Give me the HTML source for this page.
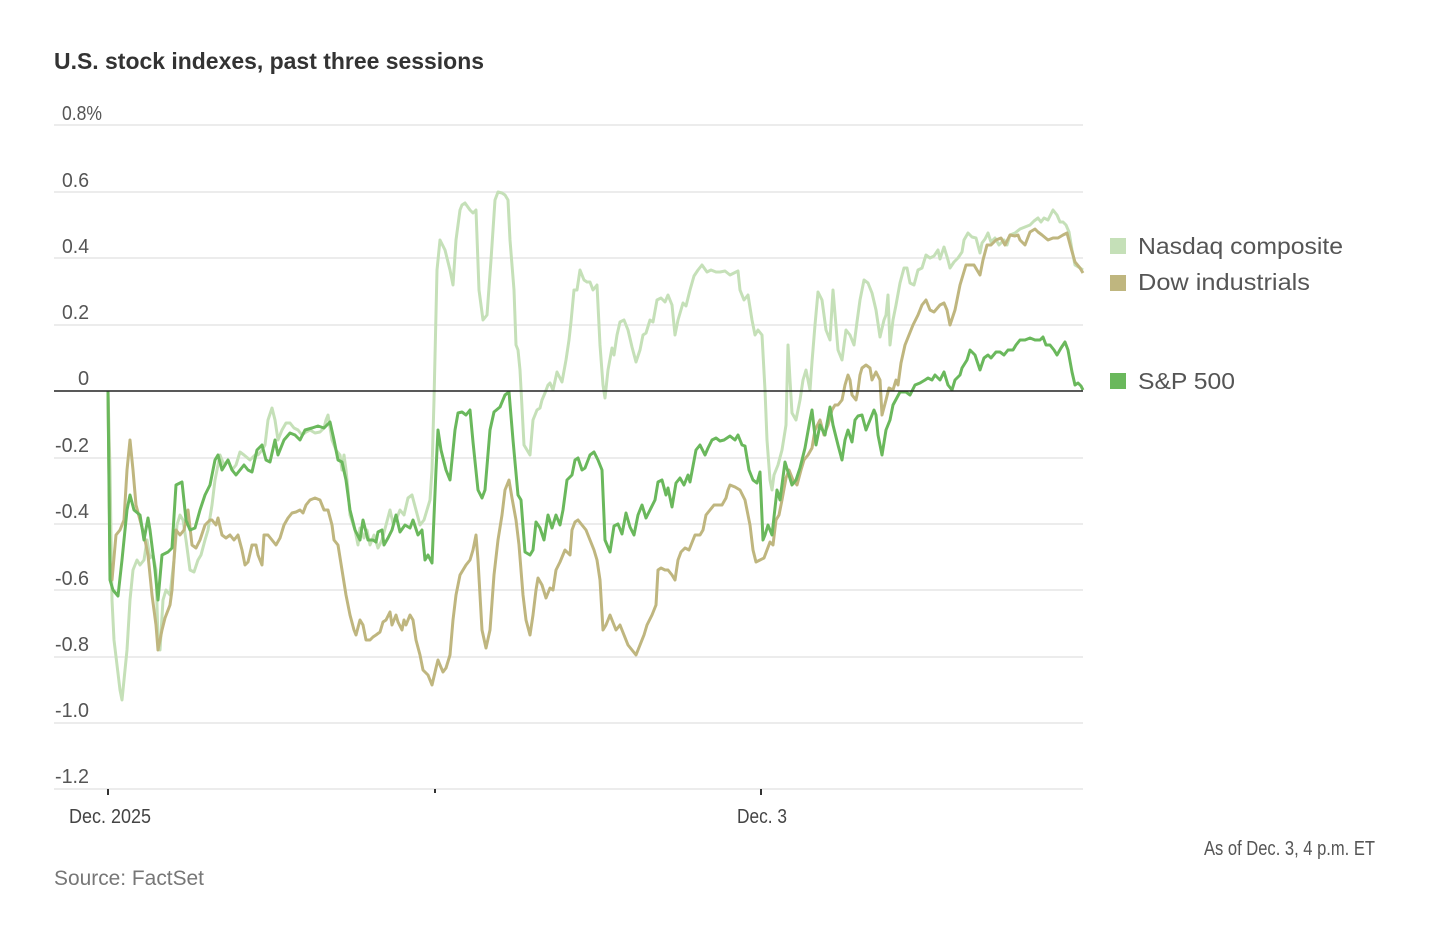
<!DOCTYPE html>
<html><head><meta charset="utf-8"><style>
html,body{margin:0;padding:0;background:#fff;}
body{width:1454px;height:920px;overflow:hidden;font-family:"Liberation Sans",sans-serif;}
</style></head><body>
<svg width="1454" height="920" viewBox="0 0 1454 920" xmlns="http://www.w3.org/2000/svg" font-family="Liberation Sans, sans-serif">
<text x="54" y="69" font-weight="bold" font-size="23" fill="#333" textLength="430" lengthAdjust="spacingAndGlyphs">U.S. stock indexes, past three sessions</text>
<g stroke="#e6e6e6" stroke-width="1.5">
<line x1="54" x2="1083" y1="125" y2="125"/><line x1="54" x2="1083" y1="192" y2="192"/><line x1="54" x2="1083" y1="258" y2="258"/><line x1="54" x2="1083" y1="325" y2="325"/><line x1="54" x2="1083" y1="458" y2="458"/><line x1="54" x2="1083" y1="524" y2="524"/><line x1="54" x2="1083" y1="590" y2="590"/><line x1="54" x2="1083" y1="657" y2="657"/><line x1="54" x2="1083" y1="723" y2="723"/><line x1="54" x2="1083" y1="789" y2="789"/>
</g>
<g font-size="20" fill="#555" lengthAdjust="spacingAndGlyphs">
<text x="62" y="120" textLength="40" lengthAdjust="spacingAndGlyphs">0.8%</text><text x="62" y="187" textLength="27" lengthAdjust="spacingAndGlyphs">0.6</text><text x="62" y="253" textLength="27" lengthAdjust="spacingAndGlyphs">0.4</text><text x="62" y="319" textLength="27" lengthAdjust="spacingAndGlyphs">0.2</text><text x="78" y="385">0</text><text x="55" y="452" textLength="34" lengthAdjust="spacingAndGlyphs">-0.2</text><text x="55" y="518" textLength="34" lengthAdjust="spacingAndGlyphs">-0.4</text><text x="55" y="585" textLength="34" lengthAdjust="spacingAndGlyphs">-0.6</text><text x="55" y="651" textLength="34" lengthAdjust="spacingAndGlyphs">-0.8</text><text x="55" y="717" textLength="34" lengthAdjust="spacingAndGlyphs">-1.0</text><text x="55" y="783" textLength="34" lengthAdjust="spacingAndGlyphs">-1.2</text>
</g>
<g stroke="#333" stroke-width="2"><line x1="108" x2="108" y1="789" y2="795"/><line x1="435" x2="435" y1="789" y2="793"/><line x1="761" x2="761" y1="789" y2="795"/></g>
<g font-size="20" fill="#444"><text x="69" y="823" textLength="82" lengthAdjust="spacingAndGlyphs">Dec. 2025</text><text x="737" y="823" textLength="50" lengthAdjust="spacingAndGlyphs">Dec. 3</text></g>
<g fill="none" stroke-width="3" stroke-linejoin="round">
<polyline stroke="#c5e0b8" points="108,391 110,470 112,600 114,640 117,665 120,690 122,700 124,680 127,650 130,600 133,570 137,560 140,565 144,560 147,540 150,558 153,555 156,570 158,640 160,650 163,600 166,590 170,595 174,560 177,525 180,515 183,520 186,540 190,570 194,572 198,560 201,555 205,540 208,530 212,505 215,480 220,455 224,465 228,460 232,470 236,465 240,452 244,455 250,460 255,455 258,455 262,450 265,445 268,420 272,408 275,420 278,440 282,430 286,423 290,423 294,428 298,430 302,435 306,432 310,430 315,433 320,432 324,428 326,420 328,415 332,440 336,450 340,455 342,470 344,455 346,470 348,490 350,515 355,530 358,545 360,528 364,538 367,530 370,545 374,535 378,548 382,540 386,525 390,510 393,523 396,520 400,510 404,515 408,498 412,495 416,510 420,525 424,520 427,510 430,500 432,470 434,400 437,270 440,240 445,250 450,270 453,285 456,240 460,210 462,205 465,203 470,210 473,213 476,210 479,290 483,320 487,315 491,260 495,200 498,192 502,193 505,195 508,200 510,240 514,290 516,345 518,350 520,370 524,445 527,450 530,455 533,420 537,410 540,408 542,400 545,393 548,385 550,383 553,390 557,372 562,382 566,360 569,340 571,322 574,290 577,290 580,270 584,280 587,282 590,282 593,290 597,285 600,345 603,385 605,398 608,370 612,348 614,355 617,335 620,322 624,320 628,330 632,347 636,362 640,350 643,335 646,333 650,320 653,322 657,300 661,298 665,302 668,295 672,305 675,335 678,320 683,303 686,306 690,290 694,276 698,270 702,265 707,272 711,270 716,272 720,272 725,271 730,275 734,273 738,271 740,290 744,300 748,295 752,320 755,335 758,330 762,335 765,390 767,440 770,480 772,490 774,475 778,465 782,450 786,425 788,345 790,380 792,413 796,420 800,400 803,380 806,370 810,390 812,362 815,325 818,292 822,300 826,330 830,340 833,290 838,350 842,360 846,330 850,335 854,345 857,322 860,300 864,280 868,283 872,293 876,310 880,337 884,320 886,315 888,295 890,345 893,320 896,305 900,283 904,268 907,268 910,283 914,285 918,270 922,268 926,255 930,258 934,256 938,250 940,259 944,247 948,260 950,268 954,262 958,258 962,252 964,240 968,233 972,237 976,238 980,253 982,243 985,239 988,233 991,242 995,238 999,245 1004,240 1007,245 1010,235 1015,233 1020,229 1025,227 1030,225 1034,221 1038,218 1041,222 1044,218 1048,220 1053,210 1057,215 1060,222 1063,222 1066,225 1069,232 1072,250 1075,265 1080,268 1083,270"/>
<polyline stroke="#bfb67f" points="108,391 110,560 112,580 116,535 120,530 124,520 127,470 130,440 133,470 136,505 140,520 144,535 148,555 152,595 156,625 158,650 162,630 165,618 170,605 172,590 176,530 180,535 184,530 188,510 192,545 196,548 200,540 205,525 210,520 212,520 216,525 218,518 222,535 226,538 230,535 234,540 238,535 242,550 245,565 248,562 252,545 256,545 258,555 262,565 264,535 268,535 272,540 276,545 280,538 284,525 288,518 292,513 296,512 300,510 303,513 306,505 310,500 315,498 320,500 324,510 328,510 332,525 334,540 338,545 342,570 346,595 350,615 354,630 356,635 360,620 363,625 366,640 370,640 373,637 376,635 380,632 383,622 386,620 390,612 392,625 396,615 398,622 402,630 404,620 406,625 410,615 413,620 416,640 420,655 423,670 428,675 432,685 436,668 438,660 440,665 443,672 446,668 450,655 453,620 456,595 460,575 466,565 470,560 473,550 476,535 478,560 482,630 486,648 490,630 494,575 498,540 502,515 505,490 509,480 512,498 516,520 519,545 523,595 526,620 530,635 533,615 536,590 538,578 542,585 546,598 550,588 553,590 556,570 560,562 565,550 570,555 572,530 575,522 578,520 582,525 586,530 590,540 594,550 597,560 600,580 603,630 606,625 610,615 612,620 616,630 620,625 624,635 628,645 632,650 636,655 640,645 644,635 647,625 652,615 656,605 658,570 661,568 665,570 668,570 672,575 675,580 678,560 681,552 685,548 689,550 693,540 695,535 700,535 703,530 706,515 710,510 714,505 718,505 722,505 726,498 728,490 730,485 735,487 740,490 745,500 750,525 753,550 756,562 760,560 764,558 770,542 773,545 776,520 779,515 782,500 786,478 789,470 793,480 797,485 801,470 804,460 808,455 812,448 815,430 820,420 824,435 828,425 832,410 835,405 838,405 842,400 845,385 848,375 850,380 852,395 856,400 858,390 860,375 862,368 866,365 870,368 872,380 876,372 880,380 882,415 886,400 889,388 893,390 896,380 898,385 901,363 905,345 909,335 913,325 918,315 922,305 926,300 930,310 934,312 940,305 944,303 947,310 950,325 955,310 957,300 960,285 963,275 966,265 970,265 974,265 977,270 980,275 983,260 987,245 991,245 996,240 1001,238 1005,245 1010,235 1015,236 1018,235 1020,240 1025,245 1030,232 1035,229 1038,232 1042,235 1048,240 1053,238 1058,238 1063,235 1067,233 1071,248 1075,262 1080,268 1083,273"/>
<polyline stroke="#6ab85c" points="108,391 110,580 113,590 118,596 122,560 127,510 130,495 134,510 140,515 144,540 148,518 150,530 155,570 158,600 162,555 168,552 172,548 176,485 182,482 186,520 190,530 195,528 200,510 205,495 210,485 215,460 218,455 222,470 228,460 232,470 236,475 240,470 244,465 248,470 252,472 257,450 262,445 266,460 270,462 275,440 278,455 284,440 290,433 295,435 300,440 305,430 312,428 318,426 324,428 330,422 334,440 338,460 342,462 346,480 350,510 355,530 360,540 363,520 368,540 373,540 376,542 378,532 382,530 384,545 388,538 392,530 396,515 400,532 405,525 410,528 413,520 418,535 422,530 425,560 428,555 432,563 436,470 438,430 441,450 446,470 450,480 455,430 458,413 462,412 466,415 470,410 473,442 478,490 482,498 485,490 490,430 494,412 500,407 505,395 509,392 513,440 518,495 521,500 525,552 530,555 533,550 536,522 540,528 544,540 548,515 552,528 556,515 560,525 563,510 567,480 572,475 575,460 578,458 582,470 585,468 590,455 594,452 598,460 602,470 605,540 610,552 614,526 618,524 622,534 626,513 630,527 634,535 638,515 642,505 646,518 650,510 655,500 658,482 662,480 666,495 668,488 672,507 676,483 680,478 684,485 688,475 690,482 696,450 700,445 705,455 708,448 712,440 716,438 720,441 724,440 730,436 735,440 738,435 742,445 745,446 749,470 753,480 757,483 760,472 763,540 765,535 768,525 772,535 777,490 780,500 785,462 788,472 792,485 796,480 800,468 805,448 810,420 812,410 816,445 820,425 825,435 830,407 833,425 838,445 842,460 845,440 848,430 852,442 855,420 858,416 862,415 866,430 870,420 874,410 876,415 878,435 882,455 886,430 890,420 893,405 900,392 906,392 910,395 915,385 920,383 925,380 928,378 932,380 935,375 940,380 944,372 948,385 952,390 955,380 960,375 962,368 967,360 970,350 975,355 980,370 984,358 988,355 991,358 996,352 1000,352 1004,355 1008,350 1013,350 1016,345 1020,340 1025,340 1030,338 1035,340 1040,340 1043,337 1046,345 1050,345 1054,350 1057,355 1061,348 1065,342 1068,350 1072,372 1075,385 1078,383 1081,386 1083,390"/>
</g>
<line x1="54" x2="1083" y1="391" y2="391" stroke="#222" stroke-width="1.5"/>
<rect x="1110" y="238" width="16" height="16" fill="#c5e0b8"/>
<rect x="1110" y="275" width="16" height="16" fill="#bfb67f"/>
<rect x="1110" y="373" width="16" height="16" fill="#6ab85c"/>
<g font-size="23" fill="#555">
<text x="1138" y="254" textLength="205" lengthAdjust="spacingAndGlyphs">Nasdaq composite</text><text x="1138" y="290" textLength="172" lengthAdjust="spacingAndGlyphs">Dow industrials</text><text x="1138" y="389" textLength="97" lengthAdjust="spacingAndGlyphs">S&amp;P 500</text>
</g>
<text x="1204" y="855" font-size="20" fill="#555" textLength="171" lengthAdjust="spacingAndGlyphs">As of Dec. 3, 4 p.m. ET</text>
<text x="54" y="885" font-size="21" fill="#777" textLength="150" lengthAdjust="spacingAndGlyphs">Source: FactSet</text>
</svg>
</body></html>
